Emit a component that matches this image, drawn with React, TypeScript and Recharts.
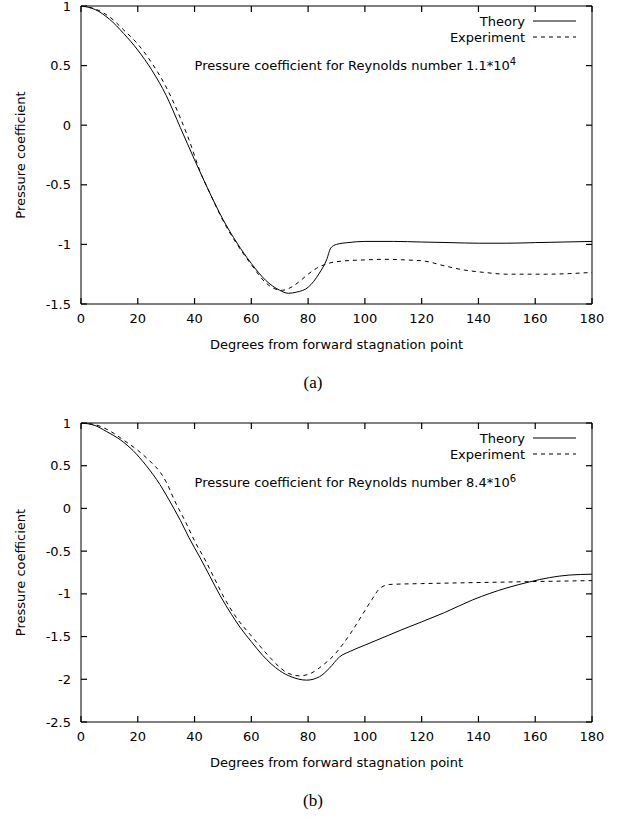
import React from 'react';
import { LineChart, Line, XAxis, YAxis, Legend, ReferenceDot } from 'recharts';

const xTicks = [0, 20, 40, 60, 80, 100, 120, 140, 160, 180];
const yTicksA = [-1.5, -1, -0.5, 0, 0.5, 1];
const yTicksB = [-2.5, -2, -1.5, -1, -0.5, 0, 0.5, 1];
const seriesNames = ['Theory', 'Experiment'];

// (a) Reynolds number 1.1*10^4
const theoryADeg = [0, 5, 10, 15, 20, 25, 30, 35, 40, 45, 50, 55, 60, 65, 70, 73, 76, 80, 84, 86.5, 88, 90, 94, 100, 110, 120, 130, 140, 150, 160, 170, 180];
const theoryACp = [1, 0.97, 0.89, 0.77, 0.63, 0.46, 0.25, -0.02, -0.29, -0.55, -0.79, -0.99, -1.16, -1.3, -1.385, -1.41, -1.4, -1.36, -1.24, -1.13, -1.03, -1.0, -0.985, -0.975, -0.975, -0.98, -0.985, -0.99, -0.99, -0.985, -0.98, -0.975];
const expADeg = [0, 5, 10, 15, 20, 25, 30, 35, 38, 42, 46, 50, 55, 60, 65, 68, 71, 74, 77, 80, 83, 87, 92, 100, 107, 114, 121, 128, 135, 142, 150, 157, 164, 172, 180];
const expACp = [1, 0.975, 0.91, 0.8, 0.68, 0.52, 0.32, 0.06, -0.12, -0.39, -0.6, -0.8, -1.0, -1.17, -1.32, -1.37, -1.385, -1.36, -1.31, -1.25, -1.2, -1.16, -1.14, -1.13, -1.125, -1.13, -1.14, -1.18, -1.215, -1.235, -1.25, -1.25, -1.25, -1.245, -1.235];

// (b) Reynolds number 8.4*10^6
const theoryBDeg = [0, 5, 9, 14, 18.4, 23, 27.8, 31, 35, 38, 42, 45.5, 49, 53, 56, 60, 64, 67, 70, 74, 79.5, 84, 87.5, 91, 95, 100, 113, 128, 138, 150, 158, 165, 172, 180];
const theoryBCp = [1, 0.97, 0.9, 0.8, 0.675, 0.5, 0.28, 0.1, -0.14, -0.34, -0.58, -0.8, -1.02, -1.24, -1.39, -1.56, -1.72, -1.82, -1.9, -1.97, -2.01, -1.97, -1.87, -1.74, -1.67, -1.6, -1.42, -1.22, -1.07, -0.93, -0.86, -0.81, -0.78, -0.77];
const expBDeg = [0, 5, 10, 15, 20, 25, 28, 30, 33, 37, 40, 44, 47, 50.5, 55, 59.7, 63, 67, 70, 73, 77, 81, 85, 89.6, 92, 95, 99, 102.4, 105.3, 108.8, 120, 135.8, 158, 180];
const expBCp = [1, 0.98, 0.91, 0.8, 0.68, 0.53, 0.42, 0.31, 0.09, -0.17, -0.38, -0.62, -0.82, -1.05, -1.29, -1.48, -1.61, -1.76, -1.86, -1.93, -1.96, -1.93, -1.84, -1.7, -1.6, -1.46, -1.25, -1.07, -0.935, -0.89, -0.88, -0.87, -0.857, -0.845];

const FONT = 'DejaVu Sans';
const DASH = '4 4';
const TICK = 6; // gnuplot style inward ticks
const GAP_X = 15;
const GAP_Y = 10;

const toPoints = (deg: number[], cp: number[]) => deg.map((d, i) => ({ deg: d, cp: cp[i] }));

// tick renderers: draw the inward tick line plus (optionally) the label
const BottomTick = (p: any) => {
  const base = p.y - GAP_X;
  return (
    <g>
      <line x1={p.x} x2={p.x} y1={base} y2={base - TICK} stroke="#000" strokeWidth={1.2} />
      <text x={p.x} y={base + 14} textAnchor="middle" dominantBaseline="central" fontSize={13} fontFamily={FONT} fill="#000">
        {p.payload.value}
      </text>
    </g>
  );
};
const LeftTick = (p: any) => {
  const base = p.x + GAP_Y;
  return (
    <g>
      <line x1={base} x2={base + TICK} y1={p.y} y2={p.y} stroke="#000" strokeWidth={1.2} />
      <text x={base - GAP_Y} y={p.y} textAnchor="end" dominantBaseline="central" fontSize={13} fontFamily={FONT} fill="#000">
        {p.payload.value}
      </text>
    </g>
  );
};
const TopTick = (p: any) => <line x1={p.x} x2={p.x} y1={p.y} y2={p.y + TICK} stroke="#000" strokeWidth={1.2} />;
const RightTick = (p: any) => <line x1={p.x} x2={p.x - TICK} y1={p.y} y2={p.y} stroke="#000" strokeWidth={1.2} />;

function CpChart({ theory, experiment, yTicks, reynolds, exponent, noteY, caption, height, top, marginTop, plotHeight }: any) {
  const renderKey = (props: any) => {
    const items = (props.payload || [])
      .filter((e: any) => seriesNames.includes(e.value))
      .sort((a: any, b: any) => seriesNames.indexOf(a.value) - seriesNames.indexOf(b.value));
    return (
      <svg width={160} height={40}>
        {items.map((entry: any, i: number) => (
          <g key={entry.value}>
            <text x={95} y={10 + i * 16} textAnchor="end" dominantBaseline="central" fontSize={13} fontFamily={FONT} fill="#000">
              {entry.value}
            </text>
            <line x1={103} x2={146} y1={10 + i * 16} y2={10 + i * 16} stroke="#000" strokeWidth={1}
              strokeDasharray={entry.value === 'Experiment' ? DASH : undefined} />
          </g>
        ))}
      </svg>
    );
  };

  // the mirrored border axes take 1px each (an axis of size 0 is not drawn)
  return (
    <div style={{ position: 'absolute', left: 0, top }}>
      <LineChart width={634} height={height} margin={{ top: marginTop - 1, right: 41, bottom: 0, left: 0 }}>
        <XAxis
          dataKey="deg" type="number" domain={[0, 180]} ticks={xTicks} allowDataOverflow interval={0}
          height={height - marginTop - plotHeight}
          tickSize={0} tickMargin={GAP_X} tick={<BottomTick />}
          axisLine={{ stroke: '#000' }} tickLine={false}
          label={{
            content: (p: any) => {
              const vb = p.viewBox || { x: 81, y: marginTop + plotHeight, width: 511 };
              const cx = vb.x + vb.width / 2;
              return (
                <g>
                  <text x={cx} y={vb.y + 40} textAnchor="middle" dominantBaseline="central" fontSize={13} fontFamily={FONT} fill="#000">
                    Degrees from forward stagnation point
                  </text>
                  <text x={cx - 23.5} y={vb.y + 78} textAnchor="middle" dominantBaseline="central" fontSize={17} fontFamily="Liberation Serif" fill="#000">
                    {caption}
                  </text>
                </g>
              );
            },
          }}
        />
        <XAxis
          xAxisId="top" orientation="top" dataKey="deg" type="number" domain={[0, 180]} ticks={xTicks} height={1} interval={0}
          allowDataOverflow tick={<TopTick />} tickSize={0} tickMargin={0} axisLine={{ stroke: '#000' }} tickLine={false}
        />
        <YAxis
          type="number" domain={[yTicks[0], 1]} ticks={yTicks} width={81} allowDataOverflow interval={0}
          tickSize={0} tickMargin={GAP_Y} tick={<LeftTick />}
          axisLine={{ stroke: '#000' }} tickLine={false}
          label={{
            content: (p: any) => {
              const vb = p.viewBox || { x: 0, y: marginTop, height: plotHeight };
              const cy = vb.y + vb.height / 2;
              return (
                <text x={20} y={cy} transform={`rotate(-90, 20, ${cy})`} textAnchor="middle" dominantBaseline="central"
                  fontSize={13} fontFamily={FONT} fill="#000">
                  Pressure coefficient
                </text>
              );
            },
          }}
        />
        <YAxis
          yAxisId="right" orientation="right" type="number" domain={[yTicks[0], 1]} ticks={yTicks} width={1} interval={0}
          allowDataOverflow tick={<RightTick />} tickSize={0} tickMargin={0} axisLine={{ stroke: '#000' }} tickLine={false}
        />
        <Legend
          layout="horizontal" align="center" verticalAlign="middle" content={renderKey}
          wrapperStyle={{ left: 430, top: marginTop + 5, width: 160, height: 40 }}
        />
        <ReferenceDot
          x={40} y={noteY} r={0.01} fill="none" stroke="none"
          label={{
            content: (p: any) => {
              const vb = p.viewBox || { x: 195, y: 66 };
              return (
                <text x={vb.x} y={vb.y} dominantBaseline="central" fontSize={13} fontFamily={FONT} fill="#000">
                  {`Pressure coefficient for Reynolds number ${reynolds}*10`}
                  <tspan dy={-5} fontSize={10}>{exponent}</tspan>
                </text>
              );
            },
          }}
        />
        {/* invisible copy so the mirrored top/right border axes get a domain */}
        <Line data={theory} dataKey="cp" name="mirror" xAxisId="top" yAxisId="right" type="monotone" stroke="none"
          legendType="none" dot={false} activeDot={false} isAnimationActive={false} />
        <Line data={theory} dataKey="cp" name="Theory" type="monotone" stroke="#000" strokeWidth={1}
          dot={false} activeDot={false} isAnimationActive={false} />
        <Line data={experiment} dataKey="cp" name="Experiment" type="monotone" stroke="#000" strokeWidth={1}
          strokeDasharray={DASH} dot={false} activeDot={false} isAnimationActive={false} />
      </LineChart>
    </div>
  );
}

export default function App() {
  return (
    <div style={{ position: 'absolute', left: 0, top: 0, width: 634, height: 821, background: '#fff', fontFamily: FONT }}>
      <CpChart
        theory={toPoints(theoryADeg, theoryACp)}
        experiment={toPoints(expADeg, expACp)}
        yTicks={yTicksA} reynolds="1.1" exponent="4" noteY={0.5} caption="(a)"
        top={0} height={400} marginTop={6} plotHeight={298}
      />
      <CpChart
        theory={toPoints(theoryBDeg, theoryBCp)}
        experiment={toPoints(expBDeg, expBCp)}
        yTicks={yTicksB} reynolds="8.4" exponent="6" noteY={0.3} caption="(b)"
        top={410} height={411} marginTop={13} plotHeight={299}
      />
    </div>
  );
}
